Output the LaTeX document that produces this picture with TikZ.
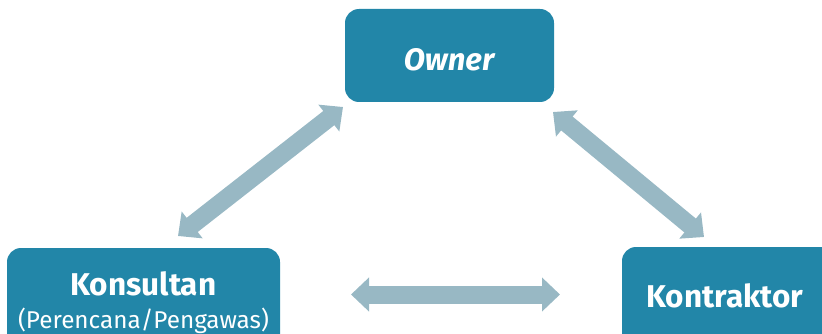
\documentclass[tikz,border=0pt]{standalone}
\usepackage{fontspec}
\setmainfont{Fira Sans}
\usetikzlibrary{arrows.meta}
\definecolor{boxblue}{RGB}{34,134,168}
\definecolor{arrowgrey}{RGB}{152,184,196}
\begin{document}
\begin{tikzpicture}[x=1pt,y=-1pt,
  rolebox/.style={fill=boxblue, rounded corners=14pt, inner sep=0pt},
  roletext/.style={text=white, anchor=base, inner sep=0pt},
  link/.style={draw=arrowgrey, line width=18pt,
    {Triangle[width=33pt,length=18pt]}-{Triangle[width=33pt,length=18pt]}}]
\useasboundingbox (0,0) rectangle (822,334);
% boxes
\node[rolebox, minimum width=209pt, minimum height=93pt] (owner) at (449.5,55.5) {};
\node[roletext, font=\fontsize{31}{36}\selectfont\bfseries\itshape] (ownertxt) at (449,71) {Owner};
\node[rolebox, minimum width=273pt, minimum height=112pt] (kons) at (143.5,304) {};
\node[roletext, font=\fontsize{31.5}{36}\selectfont\bfseries] (konstxt) at (143.5,295) {Konsultan};
\node[roletext, font=\fontsize{24.3}{30}\selectfont] (konssub) at (143.5,328) {(Perencana/Pengawas)};
\node[rolebox, minimum width=238pt, minimum height=113pt] (kontr) at (741,303.5) {};
\node[roletext, font=\fontsize{31.5}{36}\selectfont\bfseries] (kontrtxt) at (725,307) {Kontraktor};
% connector ends
\coordinate (a1) at (178,236);
\coordinate (a2) at (343,107);
\coordinate (b1) at (553,112);
\coordinate (b2) at (704,237);
\coordinate (c1) at (351,294.5);
\coordinate (c2) at (560,294.5);
\draw[link] (a1) -- (a2);
\draw[link] (b1) -- (b2);
\draw[link] (c1) -- (c2);
\end{tikzpicture}
\end{document}
